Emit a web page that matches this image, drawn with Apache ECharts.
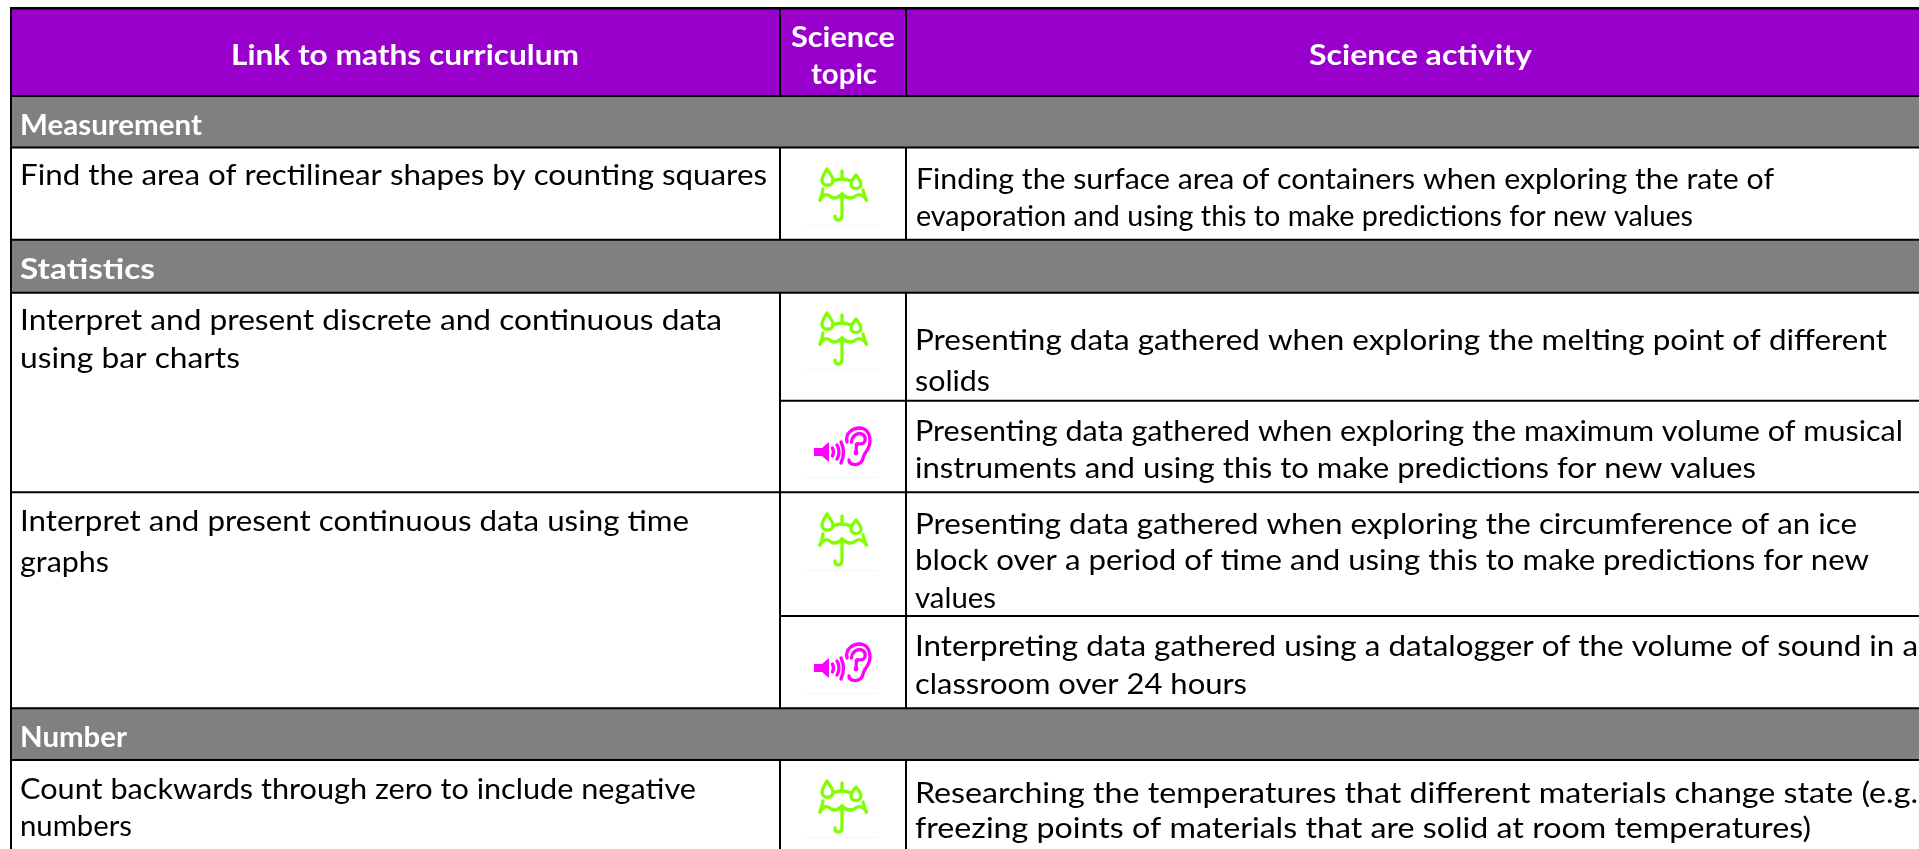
<!DOCTYPE html>
<html><head><meta charset="utf-8">
<style>html,body{margin:0;padding:0;background:#fff;overflow:hidden}#c{width:1919px;height:849px}</style>
<script src="https://cdn.jsdelivr.net/npm/echarts@6/dist/echarts.min.js"></script>
</head><body><div id="c"></div>
<script>
// ---- content ----
const headers = ['Link to maths curriculum', 'Science', 'topic', 'Science activity'];
const sections = ['Measurement', 'Statistics', 'Number'];
const curriculum = [
  'Find the area of rectilinear shapes by counting squares',
  'Interpret and present discrete and continuous data',
  'using bar charts',
  'Interpret and present continuous data using time',
  'graphs',
  'Count backwards through zero to include negative',
  'numbers'
];
const activities = [
  'Finding the surface area of containers when exploring the rate of',
  'evaporation and using this to make predictions for new values',
  'Presenting data gathered when exploring the melting point of different',
  'solids',
  'Presenting data gathered when exploring the maximum volume of musical',
  'instruments and using this to make predictions for new values',
  'Presenting data gathered when exploring the circumference of an ice',
  'block over a period of time and using this to make predictions for new',
  'values',
  'Interpreting data gathered using a datalogger of the volume of sound in a',
  'classroom over 24 hours',
  'Researching the temperatures that different materials change state (e.g.',
  'freezing points of materials that are solid at room temperatures)'
];
const topics = ['weather', 'weather', 'sound', 'weather', 'sound', 'weather'];

// ---- layout (separate from content) ----
const W = 1919, H = 849;
const colX = [11, 780, 906];
const headerBand = [8, 96];
const sectionBands = [[96, 147.5], [239.7, 292.7], [708.3, 760]];
const rowTopsFull = [8, 96, 147.5, 239.7, 292.7, 492.3, 708.3, 760];
const rowTopsRight = [400.7, 616];
const headerSpans = [[231, 579, 64], [791, 895, 46], [811, 877, 83], [1309, 1532, 64]];
const sectionSpans = [[20, 202, 134], [20, 155, 278], [20, 127, 746]];
const curriculumSpans = [[20, 767, 184], [20, 722, 329], [20, 240, 367], [20, 689, 530], [20, 109, 571], [20, 696, 798], [20, 132, 835]];
const activitySpans = [[916, 1774, 188], [916, 1693, 225], [915, 1887, 349], [915, 990, 390], [915, 1903, 440], [915, 1756, 477],
  [915, 1857, 533], [915, 1869, 569], [915, 996, 607], [915, 1918, 655], [915, 1247, 693], [915, 1918, 802], [915, 1811, 837]];
const iconOrigins = [[780, 150], [780, 294], [780, 420], [780, 495], [780, 636], [780, 762]];

const PURPLE = '#9900cc', GREY = '#808080', LIME = '#80ff00', MAGENTA = '#ff00ff', INK = '#000';
const FONT = 'Lato';
const SIZE = 28;
const ctx = document.createElement('canvas').getContext('2d');

function textEl(str, span, color, weight) {
  const font = `${weight} ${SIZE}px ${FONT}`;
  ctx.font = font;
  const w = ctx.measureText(str).width;
  return { type: 'text', x: span[0], y: span[2] - SIZE * 0.36 + 2.5, scaleX: (span[1] - span[0]) / w, z: 5,
    style: { text: str, x: 0, y: 0, font, fill: color, align: 'left', verticalAlign: 'middle' } };
}
function rect(x, y, w, h, fill, z) {
  return { type: 'rect', z: z || 1, shape: { x, y, width: w, height: h }, style: { fill } };
}
const umbrella = [
  'M47,19 C44,24 42,27 42,30 C42,37 53,37 53,30 C53,27 50,24 47,19 Z',
  'M76,25 C73,29 71,31 71,34 C71,40 81,40 81,34 C81,31 79,29 76,25 Z',
  'M62,21 L62,29',
  'M53,31 Q62,27 71,31',
  'M43,39 Q42,45 40,50',
  'M83,40 Q84,45 86.5,50',
  'M40,50 Q45,41 51,47 Q56,50 62,44 Q68,50 74,47 Q81,41 86.5,50',
  'M62,44 L62,65 Q62,70 58,70 Q55,70 55,66'
];
const ear = [
  'M52.5,28 Q54.5,32 52.5,36',
  'M57,25 Q61,32 57,39',
  'M61,22 Q66,32 61,43',
  'M67,22 C65,12 74,8 79,8 C87,8 90,14 90,21 C90,30 84,32 83,38 C82,44 76,45.5 72,44 C70,43.5 69,42 69,40',
  'M71.5,22 C72,15 78,12.5 82,14 C86,16 86,21 83.5,23 C80,25 78,23 76.5,24 L76,33'
];
function renderIcon(params) {
  const kind = topics[params.dataIndex];
  const [ox, oy] = iconOrigins[params.dataIndex];
  const color = kind === 'weather' ? LIME : MAGENTA;
  const paths = kind === 'weather' ? umbrella : ear;
  const children = paths.map(d => ({ type: 'path', shape: { pathData: d },
    style: { fill: 'none', stroke: color, lineWidth: 3.3, lineCap: 'round', lineJoin: 'round' } }));
  if (kind === 'sound') {
    children.push({ type: 'polygon', shape: { points: [[34, 28], [42, 28], [49, 22], [49, 42], [42, 36], [34, 36]] }, style: { fill: color } });
    children.push({ type: 'circle', shape: { cx: 76, cy: 33, r: 2.4 }, style: { fill: color } });
  }
  const ruleY = kind === 'weather' ? 75 : 57;
  children.push({ type: 'rect', shape: { x: 25, y: ruleY, width: 74, height: 1 }, style: { fill: '#f5f5f5' } });
  return { type: 'group', x: ox, y: oy, children };
}

const els = [];
els.push(rect(colX[0], headerBand[0], W, headerBand[1] - headerBand[0], PURPLE));
sectionBands.forEach(b => els.push(rect(colX[0], b[0], W, b[1] - b[0], GREY)));
// rules
rowTopsFull.forEach((y, i) => els.push(rect(10, y - 1, W, i === 0 ? 2.5 : 2, INK, 3)));
rowTopsRight.forEach(y => els.push(rect(colX[1], y - 1, W, 2, INK, 3)));
els.push(rect(10, 7, 2, H, INK, 3));
const vBands = [[8, 96], [147.5, 239.7], [292.7, 708.3], [760, H]];
colX.slice(1).forEach(x => vBands.forEach(b => els.push(rect(x - 1, b[0], 2, b[1] - b[0], INK, 3))));
// text
headers.forEach((t, i) => els.push(textEl(t, headerSpans[i], '#fff', 'bold')));
sections.forEach((t, i) => els.push(textEl(t, sectionSpans[i], '#fff', 'bold')));
curriculum.forEach((t, i) => els.push(textEl(t, curriculumSpans[i], INK, 'normal')));
activities.forEach((t, i) => els.push(textEl(t, activitySpans[i], INK, 'normal')));

const chart = echarts.init(document.getElementById('c'), null, { renderer: 'canvas', width: W, height: H });
chart.setOption({
  animation: false, backgroundColor: '#fff',
  graphic: { elements: els },
  series: [{ type: 'custom', coordinateSystem: 'none', z: 10, silent: true, clip: false,
    data: topics.map((k, i) => [i]), renderItem: renderIcon }]
});
</script></body></html>
